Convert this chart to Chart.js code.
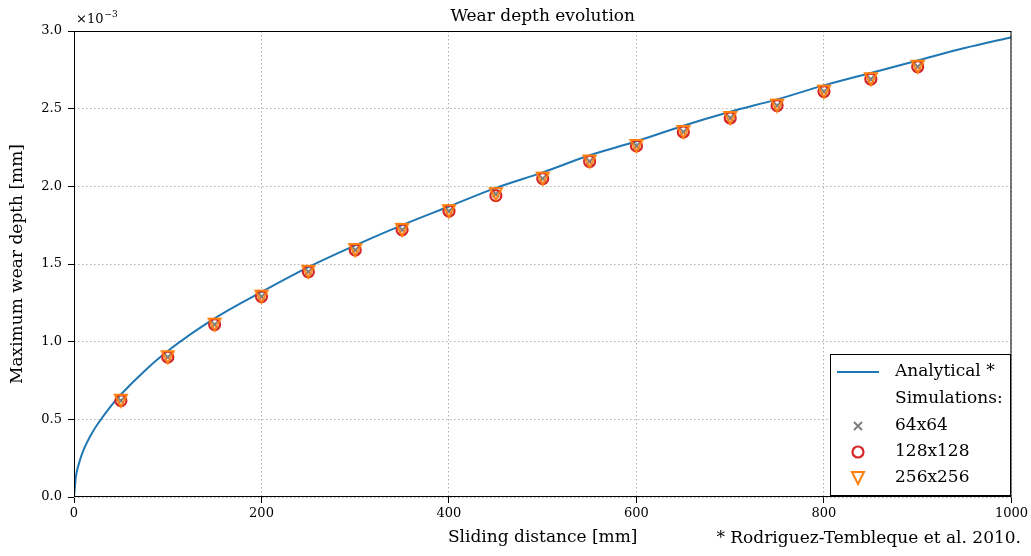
<!DOCTYPE html>
<html lang="en">
<head>
    <meta charset="UTF-8">
    <title>Wear depth evolution</title>
    <script src="https://cdn.jsdelivr.net/npm/chart.js"></script>
    <style>
        body { margin: 0; background: #fff; }
    </style>
</head>
<body>
    <canvas id="myChart" width="1031" height="556"></canvas>

    <script>
// Sliding distance [mm] of the simulation outputs
const distancias = [50, 100, 150, 200, 250, 300, 350, 400, 450, 500, 550, 600, 650, 700, 750, 800, 850, 900];
// Maximum wear depth, in units of 1e-3 mm
const malla64 = [0.62, 0.90, 1.11, 1.29, 1.45, 1.59, 1.72, 1.84, 1.95, 2.05, 2.16, 2.26, 2.35, 2.44, 2.52, 2.61, 2.69, 2.77];
const malla128 = [0.62, 0.90, 1.11, 1.29, 1.45, 1.59, 1.72, 1.84, 1.94, 2.05, 2.16, 2.26, 2.35, 2.44, 2.52, 2.61, 2.69, 2.77];
const malla256 = [0.62, 0.90, 1.11, 1.29, 1.45, 1.59, 1.72, 1.84, 1.95, 2.05, 2.16, 2.26, 2.35, 2.44, 2.52, 2.61, 2.69, 2.77];
// Analytical curve (Rodriguez-Tembleque et al. 2010)
const analiticoX = [0, 2, 5, 10, 20, 30, 40, 50, 75, 100, 150, 200, 250, 300, 350, 400, 450, 500, 550, 600, 650, 700, 750, 800, 850, 900, 950, 1000];
const analiticoY = [0, 0.13, 0.21, 0.30, 0.42, 0.51, 0.59, 0.66, 0.81, 0.94, 1.15, 1.32, 1.48, 1.62, 1.75, 1.87, 1.99, 2.09, 2.20, 2.29, 2.39, 2.48, 2.56, 2.65, 2.73, 2.81, 2.89, 2.96];
const ticksX = [0, 200, 400, 600, 800, 1000];
const ticksY = [0, 0.5, 1.0, 1.5, 2.0, 2.5, 3.0];

const fuente = "DejaVu Serif";
const azul = "#1f77b4";
const gris = "#7f7f7f";
const rojo = "#d62728";
const naranja = "#ff7f0e";

// matplotlib style 'v' marker (box centred, not centroid centred)
function trianguloAbajo() {
    const c = document.createElement("canvas");
    c.width = 18;
    c.height = 18;
    const g = c.getContext("2d");
    g.strokeStyle = naranja;
    g.lineWidth = 2;
    g.beginPath();
    g.moveTo(3, 3);
    g.lineTo(15, 3);
    g.lineTo(9, 15);
    g.closePath();
    g.stroke();
    return c;
}
const marcaTriangulo = trianguloAbajo();

const puntos = (ys) => distancias.map((x, i) => ({ x: x, y: ys[i] }));

const extras = {
    id: "extras",
    afterDatasetsDraw(chart) {
        const { ctx, chartArea: a } = chart;
        ctx.save();
        // frame
        ctx.strokeStyle = "#000";
        ctx.lineWidth = 1;
        ctx.strokeRect(a.left + 0.5, a.top + 0.5, a.right - a.left - 1, a.bottom - a.top - 1);

        // title
        ctx.fillStyle = "#000";
        ctx.font = "17px " + fuente;
        ctx.textAlign = "center";
        ctx.textBaseline = "alphabetic";
        ctx.fillText("Wear depth evolution", (a.left + a.right) / 2, 21);

        // offset text
        ctx.textAlign = "left";
        ctx.font = "13px " + fuente;
        ctx.fillText("\u00d710", a.left + 2, 23);
        const w = ctx.measureText("\u00d710").width;
        ctx.font = "9px " + fuente;
        ctx.fillText("\u22123", a.left + 2 + w + 1, 17);

        // footnote
        ctx.font = "17px " + fuente;
        ctx.textAlign = "right";
        ctx.fillText("* Rodriguez-Tembleque et al. 2010.", 1021, 543);

        // legend
        const lx = 830, ly = 354, lw = 181, lh = 142;
        ctx.fillStyle = "#fff";
        ctx.fillRect(lx, ly, lw, lh);
        ctx.strokeStyle = "#000";
        ctx.strokeRect(lx + 0.5, ly + 0.5, lw - 1, lh - 1);
        const filas = [372, 399, 426, 452, 478];
        const mx = 858;
        ctx.strokeStyle = azul;
        ctx.lineWidth = 2;
        ctx.beginPath();
        ctx.moveTo(837, filas[0]);
        ctx.lineTo(879, filas[0]);
        ctx.stroke();
        // x marker
        ctx.strokeStyle = gris;
        ctx.lineWidth = 2;
        ctx.beginPath();
        ctx.moveTo(mx - 4, filas[2] - 4);
        ctx.lineTo(mx + 4, filas[2] + 4);
        ctx.moveTo(mx - 4, filas[2] + 4);
        ctx.lineTo(mx + 4, filas[2] - 4);
        ctx.stroke();
        // circle marker
        ctx.strokeStyle = rojo;
        ctx.lineWidth = 2.2;
        ctx.beginPath();
        ctx.arc(mx, filas[3], 5.5, 0, Math.PI * 2);
        ctx.stroke();
        // triangle marker
        ctx.drawImage(marcaTriangulo, mx - 9, filas[4] - 9);

        ctx.fillStyle = "#000";
        ctx.font = "17px " + fuente;
        ctx.textAlign = "left";
        ctx.textBaseline = "middle";
        const textos = ["Analytical *", "Simulations:", "64x64", "128x128", "256x256"];
        textos.forEach((t, i) => ctx.fillText(t, 895, filas[i]));
        ctx.restore();
    }
};

const rejilla = {
    color: "#b0b0b0",
    tickLength: 6,
    tickColor: "#000",
    tickBorderDash: [],
    tickWidth: 1
};

const config = {
    type: "scatter",
    data: {
        datasets: [
            {
                label: "Analytical *",
                data: analiticoX.map((x, i) => ({ x: x, y: analiticoY[i] })),
                showLine: true,
                borderColor: azul,
                borderWidth: 2,
                pointRadius: 0,
                cubicInterpolationMode: "monotone",
                order: 4
            },
            {
                label: "64x64",
                data: puntos(malla64),
                pointStyle: "crossRot",
                pointRadius: 4.5,
                borderWidth: 2,
                borderColor: gris,
                backgroundColor: gris,
                order: 3
            },
            {
                label: "128x128",
                data: puntos(malla128),
                pointStyle: "circle",
                pointRadius: 5.5,
                borderWidth: 2.2,
                borderColor: rojo,
                backgroundColor: "rgba(0,0,0,0)",
                order: 2
            },
            {
                label: "256x256",
                data: puntos(malla256),
                pointStyle: marcaTriangulo,
                pointRadius: 6,
                borderColor: naranja,
                backgroundColor: naranja,
                order: 1
            }
        ]
    },
    options: {
        responsive: false,
        animation: false,
        devicePixelRatio: 1,
        layout: { padding: { left: 0, top: 31, right: 19, bottom: 0 } },
        plugins: {
            legend: { display: false },
            tooltip: { enabled: false }
        },
        scales: {
            x: {
                type: "linear",
                min: 0,
                max: 1000,
                afterFit: (s) => { s.height = 59; },
                afterBuildTicks: (s) => { s.ticks = ticksX.map((v) => ({ value: v })); },
                border: { display: false, dash: [1.5, 2.5] },
                grid: rejilla,
                ticks: {
                    color: "#000",
                    padding: 3,
                    maxRotation: 0,
                    font: { family: fuente, size: 13 },
                    callback: (v) => String(v)
                },
                title: {
                    display: true,
                    text: "Sliding distance [mm]",
                    color: "#000",
                    font: { family: fuente, size: 17 },
                    padding: { top: 0, bottom: 8 }
                }
            },
            y: {
                type: "linear",
                min: 0,
                max: 3,
                afterFit: (s) => { s.width = 74; },
                afterBuildTicks: (s) => { s.ticks = ticksY.map((v) => ({ value: v })); },
                border: { display: false, dash: [1.5, 2.5] },
                grid: rejilla,
                ticks: {
                    color: "#000",
                    padding: 6,
                    font: { family: fuente, size: 13 },
                    callback: (v) => Number(v).toFixed(1)
                },
                title: {
                    display: true,
                    text: "Maximum wear depth [mm]",
                    color: "#000",
                    font: { family: fuente, size: 17 },
                    padding: { top: 7, bottom: 0 }
                }
            }
        }
    },
    plugins: [extras]
};

new Chart(document.getElementById("myChart"), config);
    </script>
</body>
</html>
